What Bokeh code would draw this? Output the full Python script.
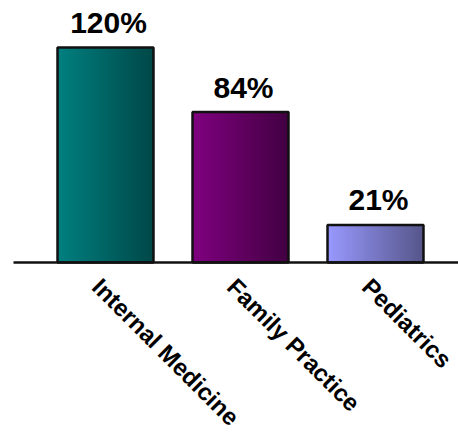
import math
from bokeh.plotting import figure
from bokeh.models import ColumnDataSource, Range1d
from bokeh.core.properties import value
from bokeh.embed import file_html
from bokeh.resources import INLINE

# ---- data ----
categories = ["Internal Medicine", "Family Practice", "Pediatrics"]
values = [120, 84, 21]
value_labels = ["120%", "84%", "21%"]
left_colors = ["#008080", "#800080", "#9999FF"]
right_colors = ["#004848", "#420042", "#56568A"]

BAR_W = 0.711
N_SLICES = 96

def hex2rgb(h):
    h = h.lstrip("#")
    return tuple(int(h[i:i + 2], 16) for i in (0, 2, 4))

def mix(c1, c2, t):
    a, b = hex2rgb(c1), hex2rgb(c2)
    return "#%02x%02x%02x" % tuple(round(a[i] + (b[i] - a[i]) * t) for i in range(3))

xs = list(range(len(categories)))

# gradient slices (overlapping so no seams show)
sl = dict(left=[], right=[], top=[], bottom=[], color=[])
for i, v in enumerate(values):
    x0 = xs[i] - BAR_W / 2
    step = BAR_W / N_SLICES
    for k in range(N_SLICES):
        sl["left"].append(x0 + k * step)
        sl["right"].append(min(x0 + (k + 2) * step, x0 + BAR_W))
        sl["bottom"].append(0)
        sl["top"].append(v)
        sl["color"].append(mix(left_colors[i], right_colors[i], (k + 0.5) / N_SLICES))

p = figure(width=458, height=437, output_backend="svg", toolbar_location=None,
           x_range=Range1d(-0.77778, 2.61481), y_range=Range1d(-97.674, 146.233),
           min_border=0, outline_line_color=None)
p.axis.visible = False
p.grid.visible = False
p.background_fill_color = "white"
p.border_fill_color = "white"

p.quad(source=ColumnDataSource(sl), left="left", right="right", top="top",
       bottom="bottom", fill_color="color", line_color=None)

src = ColumnDataSource(dict(x=xs, top=values, cat=categories, lab=value_labels))
p.vbar(x="x", top="top", bottom=0, width=BAR_W, source=src, fill_color=None,
       line_color="#111111", line_width=2.5)

# baseline
p.segment(x0=-0.6815, y0=0, x1=2.7, y1=0, line_color="#111111", line_width=2.5)

# value labels
p.text(x="x", y="top", text="lab", source=src, text_align="center",
       text_baseline="alphabetic", y_offset=-25, x_offset=3,
       text_font=value("Liberation Sans"), text_font_style="bold",
       text_font_size="30px", text_color="black")

# category labels
p.text(x="x", y=0, text="cat", source=src, text_align="left",
       text_baseline="alphabetic", angle=-math.pi / 4, x_offset=-9, y_offset=20,
       text_font=value("Liberation Sans"), text_font_style="bold",
       text_font_size="24px", text_color="black")

open("out.html", "w").write(file_html(p, INLINE))
